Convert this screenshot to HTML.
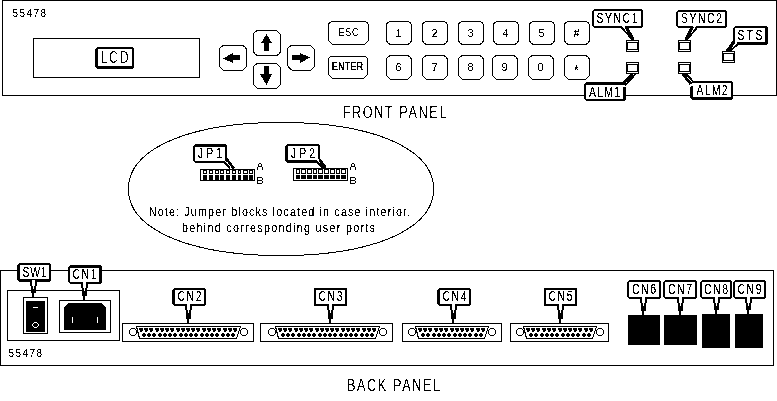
<!DOCTYPE html><html><head><meta charset="utf-8"><style>html,body{margin:0;padding:0;background:#fff;overflow:hidden;width:777px;height:401px;}svg{display:block;}text{font-family:"Liberation Sans",sans-serif;fill:#808080;}</style></head><body>
<svg width="777" height="401" viewBox="0 0 777 401" shape-rendering="crispEdges">
<defs><filter id="bin" x="0" y="0" width="100%" height="100%" color-interpolation-filters="sRGB"><feColorMatrix type="matrix" values="0.33 0.33 0.33 0 0 0.33 0.33 0.33 0 0 0.33 0.33 0.33 0 0 0 0 0 1 0"/><feComponentTransfer><feFuncR type="discrete" tableValues="0 0 0 1"/><feFuncG type="discrete" tableValues="0 0 0 1"/><feFuncB type="discrete" tableValues="0 0 0 1"/></feComponentTransfer></filter></defs>
<g filter="url(#bin)">
<rect width="777" height="401" fill="#fff"/>
<rect x="2.5" y="0.5" width="774" height="95" fill="none" stroke="#000"/>
<text transform="translate(12.5 17) scale(0.88 1.0)" x="0" y="0" font-size="11.3" text-anchor="start" textLength="38.07" lengthAdjust="spacing">55478</text>
<rect x="33.5" y="38.5" width="166" height="39" fill="none" stroke="#000"/>
<path d="M97 47H132L134 49V67L132 69H97L95 67V49Z" fill="#000"/>
<rect x="98" y="49" width="34" height="17" fill="#fff"/>
<text transform="translate(114.5 63) scale(0.72 1.0)" x="0" y="0" font-size="17" text-anchor="middle" textLength="38.89" lengthAdjust="spacing" style="fill:#989898">LCD</text>
<path d="M224.5 45.5H241.5C244.25 45.5 246.5 47.75 246.5 50.5V64.5C246.5 67.8 243.8 70.5 240.5 70.5H225.5C222.2 70.5 219.5 67.8 219.5 64.5V50.5C219.5 47.75 221.75 45.5 224.5 45.5Z" fill="none" stroke="#000"/>
<path d="M258.5 30.5H274.5C277.8 30.5 280.5 33.2 280.5 36.5V50.5C280.5 53.25 278.25 55.5 275.5 55.5H258.5C255.75 55.5 253.5 53.25 253.5 50.5V35.5C253.5 32.75 255.75 30.5 258.5 30.5Z" fill="none" stroke="#000"/>
<path d="M258.5 63.5H274.5C277.8 63.5 280.5 66.2 280.5 69.5V82.5C280.5 85.8 277.8 88.5 274.5 88.5H259.5C256.2 88.5 253.5 85.8 253.5 82.5V68.5C253.5 65.75 255.75 63.5 258.5 63.5Z" fill="none" stroke="#000"/>
<path d="M292.5 45.5H308.5C311.8 45.5 314.5 48.2 314.5 51.5V64.5C314.5 67.8 311.8 70.5 308.5 70.5H294.5C290.65 70.5 287.5 67.35 287.5 63.5V50.5C287.5 47.75 289.75 45.5 292.5 45.5Z" fill="none" stroke="#000"/>
<path d="M223 58.5L233 53L233 55L240 55L240 60L233 60L233 63Z" fill="#000"/>
<path d="M310 57.5L300 53L300 55L292 55L292 60L300 60L300 63Z" fill="#000"/>
<path d="M266.5 34L272 43L269 43L269 51L264 51L264 43L261 43Z" fill="#000"/>
<path d="M266.5 85L272 74L269 74L269 66L264 66L264 74L260 74Z" fill="#000"/>
<path d="M332.5 21.5H364.5C366.7 21.5 368.5 23.3 368.5 25.5V38.5C368.5 41.8 365.8 44.5 362.5 44.5H334.5C331.2 44.5 328.5 41.8 328.5 38.5V25.5C328.5 23.3 330.3 21.5 332.5 21.5Z" fill="none" stroke="#000"/>
<text transform="translate(348.5 36) scale(0.88 1.0)" x="0" y="0" font-size="10" text-anchor="middle" textLength="22.16" lengthAdjust="spacing">ESC</text>
<path d="M331.5 56.5H364.5C366.15 56.5 367.5 57.85 367.5 59.5V72.5C367.5 75.8 364.8 78.5 361.5 78.5H334.5C331.2 78.5 328.5 75.8 328.5 72.5V59.5C328.5 57.85 329.85 56.5 331.5 56.5Z" fill="none" stroke="#000"/>
<text transform="translate(347.5 70) scale(0.92 1.0)" x="0" y="0" font-size="10" text-anchor="middle" textLength="34.24" lengthAdjust="spacing" style="fill:#404040">ENTER</text>
<path d="M390.5 21.5H407.5C409.7 21.5 411.5 23.3 411.5 25.5V39.5C411.5 42.25 409.25 44.5 406.5 44.5H391.5C388.75 44.5 386.5 42.25 386.5 39.5V25.5C386.5 23.3 388.3 21.5 390.5 21.5Z" fill="none" stroke="#000"/>
<text x="398.5" y="37" font-size="11" text-anchor="middle">1</text>
<path d="M391.5 55.5H406.5C409.25 55.5 411.5 57.75 411.5 60.5V73.5C411.5 76.8 408.8 79.5 405.5 79.5H392.5C389.2 79.5 386.5 76.8 386.5 73.5V60.5C386.5 57.75 388.75 55.5 391.5 55.5Z" fill="none" stroke="#000"/>
<text x="398.5" y="71" font-size="11" text-anchor="middle">6</text>
<path d="M426.5 21.5H443.5C445.7 21.5 447.5 23.3 447.5 25.5V39.5C447.5 42.25 445.25 44.5 442.5 44.5H427.5C424.75 44.5 422.5 42.25 422.5 39.5V25.5C422.5 23.3 424.3 21.5 426.5 21.5Z" fill="none" stroke="#000"/>
<text x="434.5" y="37" font-size="11" text-anchor="middle">2</text>
<path d="M427.5 55.5H442.5C445.25 55.5 447.5 57.75 447.5 60.5V73.5C447.5 76.8 444.8 79.5 441.5 79.5H428.5C425.2 79.5 422.5 76.8 422.5 73.5V60.5C422.5 57.75 424.75 55.5 427.5 55.5Z" fill="none" stroke="#000"/>
<text x="434.5" y="71" font-size="11" text-anchor="middle">7</text>
<path d="M462.5 21.5H479.5C481.7 21.5 483.5 23.3 483.5 25.5V39.5C483.5 42.25 481.25 44.5 478.5 44.5H463.5C460.75 44.5 458.5 42.25 458.5 39.5V25.5C458.5 23.3 460.3 21.5 462.5 21.5Z" fill="none" stroke="#000"/>
<text x="470.5" y="37" font-size="11" text-anchor="middle">3</text>
<path d="M463.5 55.5H478.5C481.25 55.5 483.5 57.75 483.5 60.5V73.5C483.5 76.8 480.8 79.5 477.5 79.5H464.5C461.2 79.5 458.5 76.8 458.5 73.5V60.5C458.5 57.75 460.75 55.5 463.5 55.5Z" fill="none" stroke="#000"/>
<text x="470.5" y="71" font-size="11" text-anchor="middle">8</text>
<path d="M497.5 21.5H514.5C516.7 21.5 518.5 23.3 518.5 25.5V39.5C518.5 42.25 516.25 44.5 513.5 44.5H498.5C495.75 44.5 493.5 42.25 493.5 39.5V25.5C493.5 23.3 495.3 21.5 497.5 21.5Z" fill="none" stroke="#000"/>
<text x="505.5" y="37" font-size="11" text-anchor="middle">4</text>
<path d="M497.5 55.5H512.5C515.25 55.5 517.5 57.75 517.5 60.5V73.5C517.5 76.8 514.8 79.5 511.5 79.5H498.5C495.2 79.5 492.5 76.8 492.5 73.5V60.5C492.5 57.75 494.75 55.5 497.5 55.5Z" fill="none" stroke="#000"/>
<text x="504.5" y="71" font-size="11" text-anchor="middle">9</text>
<path d="M533.5 21.5H550.5C552.7 21.5 554.5 23.3 554.5 25.5V39.5C554.5 42.25 552.25 44.5 549.5 44.5H534.5C531.75 44.5 529.5 42.25 529.5 39.5V25.5C529.5 23.3 531.3 21.5 533.5 21.5Z" fill="none" stroke="#000"/>
<text x="541.5" y="37" font-size="11" text-anchor="middle">5</text>
<path d="M533.5 55.5H548.5C551.25 55.5 553.5 57.75 553.5 60.5V73.5C553.5 76.8 550.8 79.5 547.5 79.5H534.5C531.2 79.5 528.5 76.8 528.5 73.5V60.5C528.5 57.75 530.75 55.5 533.5 55.5Z" fill="none" stroke="#000"/>
<text x="540.5" y="71" font-size="11" text-anchor="middle">0</text>
<path d="M568.5 21.5H585.5C587.7 21.5 589.5 23.3 589.5 25.5V39.5C589.5 42.25 587.25 44.5 584.5 44.5H569.5C566.75 44.5 564.5 42.25 564.5 39.5V25.5C564.5 23.3 566.3 21.5 568.5 21.5Z" fill="none" stroke="#000"/>
<text x="576.5" y="37" font-size="11" text-anchor="middle">#</text>
<path d="M569.5 55.5H584.5C587.25 55.5 589.5 57.75 589.5 60.5V73.5C589.5 76.8 586.8 79.5 583.5 79.5H570.5C567.2 79.5 564.5 76.8 564.5 73.5V60.5C564.5 57.75 566.75 55.5 569.5 55.5Z" fill="none" stroke="#000"/>
<text x="576.5" y="74.5" font-size="14" text-anchor="middle">*</text>
<rect x="626" y="40" width="13" height="12" fill="#000"/>
<rect x="627" y="41" width="11" height="1" fill="#fff"/>
<rect x="627" y="50" width="11" height="1" fill="#fff"/>
<rect x="628" y="43" width="9" height="6" fill="#fff"/>
<rect x="626" y="62" width="13" height="12" fill="#000"/>
<rect x="627" y="63" width="11" height="1" fill="#fff"/>
<rect x="627" y="72" width="11" height="1" fill="#fff"/>
<rect x="628" y="65" width="9" height="6" fill="#fff"/>
<rect x="678" y="40" width="13" height="12" fill="#000"/>
<rect x="679" y="41" width="11" height="1" fill="#fff"/>
<rect x="679" y="50" width="11" height="1" fill="#fff"/>
<rect x="680" y="43" width="9" height="6" fill="#fff"/>
<rect x="678" y="62" width="13" height="12" fill="#000"/>
<rect x="679" y="63" width="11" height="1" fill="#fff"/>
<rect x="679" y="72" width="11" height="1" fill="#fff"/>
<rect x="680" y="65" width="9" height="6" fill="#fff"/>
<rect x="722" y="51" width="13" height="12" fill="#000"/>
<rect x="723" y="52" width="11" height="1" fill="#fff"/>
<rect x="723" y="61" width="11" height="1" fill="#fff"/>
<rect x="724" y="54" width="9" height="6" fill="#fff"/>
<path d="M594 9H641L643 11V26L641 28H594L592 26V11Z" fill="#000"/>
<rect x="594" y="11" width="47" height="15" fill="#fff"/>
<text transform="translate(617 23) scale(0.72 1.0)" x="0" y="0" font-size="14.5" text-anchor="middle" textLength="56.94" lengthAdjust="spacing">SYNC1</text>
<path d="M678 10H725L727 12V26L725 28H678L676 26V12Z" fill="#000"/>
<rect x="678" y="12" width="47" height="14" fill="#fff"/>
<text transform="translate(701.5 23) scale(0.72 1.0)" x="0" y="0" font-size="14.5" text-anchor="middle" textLength="56.94" lengthAdjust="spacing">SYNC2</text>
<path d="M735 26H766L768 28V43L766 45H735L733 43V28Z" fill="#000"/>
<rect x="735" y="28" width="30" height="14" fill="#fff"/>
<text transform="translate(750.0 40) scale(0.72 1.0)" x="0" y="0" font-size="14.5" text-anchor="middle" textLength="34.72" lengthAdjust="spacing">STS</text>
<path d="M586 82H624L626 84V99L624 101H586L584 99V84Z" fill="#000"/>
<rect x="586" y="85" width="37" height="14" fill="#fff"/>
<text transform="translate(604.5 97) scale(0.72 1.0)" x="0" y="0" font-size="14.5" text-anchor="middle" textLength="43.06" lengthAdjust="spacing">ALM1</text>
<path d="M692 81H731L733 83V98L731 100H692L690 98V83Z" fill="#000"/>
<rect x="693" y="83" width="38" height="14" fill="#fff"/>
<text transform="translate(712.0 95) scale(0.72 1.0)" x="0" y="0" font-size="14.5" text-anchor="middle" textLength="43.06" lengthAdjust="spacing">ALM2</text>
<path d="M621 25.5L625 25.5L628 29L624 29Z" fill="#fff" shape-rendering="geometricPrecision"/>
<path d="M620.5 26.5L632.5 39.5" stroke="#000" stroke-width="1.3" fill="none" shape-rendering="geometricPrecision"/>
<path d="M625.8 26.5L633.2 39.8" stroke="#000" stroke-width="2.8" fill="none" shape-rendering="geometricPrecision"/>
<path d="M697 25.5L693.5 25.5L690.5 29L694.5 29Z" fill="#fff" shape-rendering="geometricPrecision"/>
<path d="M697.8 26.5L687 39.8" stroke="#000" stroke-width="1.3" fill="none" shape-rendering="geometricPrecision"/>
<path d="M692.5 26.5L685.8 39.8" stroke="#000" stroke-width="2.8" fill="none" shape-rendering="geometricPrecision"/>
<path d="M735.2 42L737.5 42L736.5 45.5L734.5 45.5Z" fill="#fff" shape-rendering="geometricPrecision"/>
<path d="M734.2 41.5L727.3 50.8" stroke="#000" stroke-width="2.8" fill="none" shape-rendering="geometricPrecision"/>
<path d="M737.8 44.5L730 50.8" stroke="#000" stroke-width="1.3" fill="none" shape-rendering="geometricPrecision"/>
<path d="M622.8 84L626.5 84.5L627 87L623 87Z" fill="#fff" shape-rendering="geometricPrecision"/>
<path d="M632.3 74L622.5 83.6" stroke="#000" stroke-width="2.4" fill="none" shape-rendering="geometricPrecision"/>
<path d="M635.5 74L625 85.5" stroke="#000" stroke-width="1.3" fill="none" shape-rendering="geometricPrecision"/>
<path d="M690 84L693.8 82.5L693 86L690 87Z" fill="#fff" shape-rendering="geometricPrecision"/>
<path d="M682.7 74L690.6 83.8" stroke="#000" stroke-width="2.4" fill="none" shape-rendering="geometricPrecision"/>
<path d="M686 74L693.8 82.2" stroke="#000" stroke-width="1.3" fill="none" shape-rendering="geometricPrecision"/>
<text transform="translate(394.5 118) scale(0.8 1.0)" x="0" y="0" font-size="15.8" text-anchor="middle" textLength="130.00" lengthAdjust="spacing" style="fill:#909090">FRONT PANEL</text>
<path d="M433.50 189.00L433.48 190.59L433.41 192.02L433.31 193.39L433.16 194.71L432.97 196.02L432.73 197.30L432.45 198.56L432.13 199.80L431.77 201.03L431.36 202.25L430.92 203.45L430.43 204.64L429.89 205.81L429.32 206.98L428.70 208.13L428.05 209.28L427.35 210.41L426.61 211.53L425.83 212.64L425.00 213.74L424.14 214.83L423.24 215.90L422.29 216.97L421.31 218.02L420.28 219.07L419.22 220.10L418.11 221.12L416.97 222.13L415.79 223.12L414.57 224.11L413.31 225.08L412.01 226.04L410.67 226.98L409.30 227.92L407.89 228.84L406.44 229.75L404.96 230.64L403.44 231.53L401.88 232.40L400.29 233.25L398.66 234.09L397.00 234.92L395.30 235.73L393.57 236.53L391.80 237.32L390.00 238.09L388.17 238.84L386.31 239.58L384.41 240.31L382.48 241.02L380.52 241.71L378.52 242.39L376.50 243.05L374.45 243.70L372.36 244.33L370.25 244.95L368.11 245.55L365.93 246.13L363.73 246.69L361.50 247.24L359.25 247.78L356.96 248.29L354.65 248.79L352.31 249.27L349.95 249.74L347.56 250.18L345.14 250.61L342.70 251.02L340.23 251.42L337.73 251.79L335.21 252.15L332.67 252.49L330.10 252.82L327.50 253.12L324.88 253.41L322.23 253.68L319.56 253.93L316.86 254.16L314.13 254.37L311.37 254.57L308.59 254.75L305.77 254.90L302.92 255.04L300.03 255.16L297.09 255.27L294.11 255.35L291.06 255.42L287.92 255.46L284.65 255.49L281.00 255.50L277.35 255.49L274.08 255.46L270.94 255.42L267.89 255.35L264.91 255.27L261.97 255.16L259.08 255.04L256.23 254.90L253.41 254.75L250.63 254.57L247.87 254.37L245.14 254.16L242.44 253.93L239.77 253.68L237.12 253.41L234.50 253.12L231.90 252.82L229.33 252.49L226.79 252.15L224.27 251.79L221.77 251.42L219.30 251.02L216.86 250.61L214.44 250.18L212.05 249.74L209.69 249.27L207.35 248.79L205.04 248.29L202.75 247.78L200.50 247.24L198.27 246.69L196.07 246.13L193.89 245.55L191.75 244.95L189.64 244.33L187.55 243.70L185.50 243.05L183.48 242.39L181.48 241.71L179.52 241.02L177.59 240.31L175.69 239.58L173.83 238.84L172.00 238.09L170.20 237.32L168.43 236.53L166.70 235.73L165.00 234.92L163.34 234.09L161.71 233.25L160.12 232.40L158.56 231.53L157.04 230.64L155.56 229.75L154.11 228.84L152.70 227.92L151.33 226.98L149.99 226.04L148.69 225.08L147.43 224.11L146.21 223.12L145.03 222.13L143.89 221.12L142.78 220.10L141.72 219.07L140.69 218.02L139.71 216.97L138.76 215.90L137.86 214.83L137.00 213.74L136.17 212.64L135.39 211.53L134.65 210.41L133.95 209.28L133.30 208.13L132.68 206.98L132.11 205.81L131.57 204.64L131.08 203.45L130.64 202.25L130.23 201.03L129.87 199.80L129.55 198.56L129.27 197.30L129.03 196.02L128.84 194.71L128.69 193.39L128.59 192.02L128.52 190.59L128.50 189.00L128.52 187.41L128.59 185.98L128.69 184.61L128.84 183.29L129.03 181.98L129.27 180.70L129.55 179.44L129.87 178.20L130.23 176.97L130.64 175.75L131.08 174.55L131.57 173.36L132.11 172.19L132.68 171.02L133.30 169.87L133.95 168.72L134.65 167.59L135.39 166.47L136.17 165.36L137.00 164.26L137.86 163.17L138.76 162.10L139.71 161.03L140.69 159.98L141.72 158.93L142.78 157.90L143.89 156.88L145.03 155.87L146.21 154.88L147.43 153.89L148.69 152.92L149.99 151.96L151.33 151.02L152.70 150.08L154.11 149.16L155.56 148.25L157.04 147.36L158.56 146.47L160.12 145.60L161.71 144.75L163.34 143.91L165.00 143.08L166.70 142.27L168.43 141.47L170.20 140.68L172.00 139.91L173.83 139.16L175.69 138.42L177.59 137.69L179.52 136.98L181.48 136.29L183.48 135.61L185.50 134.95L187.55 134.30L189.64 133.67L191.75 133.05L193.89 132.45L196.07 131.87L198.27 131.31L200.50 130.76L202.75 130.22L205.04 129.71L207.35 129.21L209.69 128.73L212.05 128.26L214.44 127.82L216.86 127.39L219.30 126.98L221.77 126.58L224.27 126.21L226.79 125.85L229.33 125.51L231.90 125.18L234.50 124.88L237.12 124.59L239.77 124.32L242.44 124.07L245.14 123.84L247.87 123.63L250.63 123.43L253.41 123.25L256.23 123.10L259.08 122.96L261.97 122.84L264.91 122.73L267.89 122.65L270.94 122.58L274.08 122.54L277.35 122.51L281.00 122.50L284.65 122.51L287.92 122.54L291.06 122.58L294.11 122.65L297.09 122.73L300.03 122.84L302.92 122.96L305.77 123.10L308.59 123.25L311.37 123.43L314.13 123.63L316.86 123.84L319.56 124.07L322.23 124.32L324.88 124.59L327.50 124.88L330.10 125.18L332.67 125.51L335.21 125.85L337.73 126.21L340.23 126.58L342.70 126.98L345.14 127.39L347.56 127.82L349.95 128.26L352.31 128.73L354.65 129.21L356.96 129.71L359.25 130.22L361.50 130.76L363.73 131.31L365.93 131.87L368.11 132.45L370.25 133.05L372.36 133.67L374.45 134.30L376.50 134.95L378.52 135.61L380.52 136.29L382.48 136.98L384.41 137.69L386.31 138.42L388.17 139.16L390.00 139.91L391.80 140.68L393.57 141.47L395.30 142.27L397.00 143.08L398.66 143.91L400.29 144.75L401.88 145.60L403.44 146.47L404.96 147.36L406.44 148.25L407.89 149.16L409.30 150.08L410.67 151.02L412.01 151.96L413.31 152.92L414.57 153.89L415.79 154.88L416.97 155.87L418.11 156.88L419.22 157.90L420.28 158.93L421.31 159.98L422.29 161.03L423.24 162.10L424.14 163.17L425.00 164.26L425.83 165.36L426.61 166.47L427.35 167.59L428.05 168.72L428.70 169.87L429.32 171.02L429.89 172.19L430.43 173.36L430.92 174.55L431.36 175.75L431.77 176.97L432.13 178.20L432.45 179.44L432.73 180.70L432.97 181.98L433.16 183.29L433.31 184.61L433.41 185.98L433.48 187.41Z" fill="none" stroke="#000"/>
<rect x="200" y="169" width="55" height="12" fill="#000"/>
<rect x="201" y="170" width="2" height="10" fill="#fff"/>
<rect x="207" y="170" width="2" height="10" fill="#fff"/>
<rect x="213" y="170" width="2" height="10" fill="#fff"/>
<rect x="219" y="170" width="1" height="10" fill="#fff"/>
<rect x="224" y="170" width="2" height="10" fill="#fff"/>
<rect x="230" y="170" width="2" height="10" fill="#fff"/>
<rect x="236" y="170" width="2" height="10" fill="#fff"/>
<rect x="241" y="170" width="2" height="10" fill="#fff"/>
<rect x="248" y="170" width="1" height="10" fill="#fff"/>
<rect x="253" y="170" width="1" height="10" fill="#fff"/>
<rect x="201" y="174" width="53" height="1" fill="#fff"/>
<rect x="204" y="171" width="2" height="2" fill="#fff"/>
<rect x="210" y="171" width="2" height="2" fill="#fff"/>
<rect x="216" y="171" width="2" height="2" fill="#fff"/>
<rect x="221" y="171" width="2" height="2" fill="#fff"/>
<rect x="227" y="171" width="2" height="2" fill="#fff"/>
<rect x="233" y="171" width="2" height="2" fill="#fff"/>
<rect x="239" y="171" width="1" height="2" fill="#fff"/>
<rect x="244" y="171" width="3" height="2" fill="#fff"/>
<rect x="250" y="171" width="2" height="2" fill="#fff"/>
<rect x="293.5" y="168.5" width="54" height="12" fill="none" stroke="#000"/>
<rect x="296" y="169" width="4" height="5" fill="#000"/>
<rect x="297" y="170" width="2" height="3" fill="#fff"/>
<rect x="296" y="175" width="4" height="4" fill="#000"/>
<rect x="301" y="169" width="5" height="5" fill="#000"/>
<rect x="302" y="170" width="3" height="3" fill="#fff"/>
<rect x="301" y="175" width="5" height="4" fill="#000"/>
<rect x="307" y="169" width="5" height="5" fill="#000"/>
<rect x="308" y="170" width="3" height="3" fill="#fff"/>
<rect x="307" y="175" width="5" height="4" fill="#000"/>
<rect x="313" y="169" width="4" height="5" fill="#000"/>
<rect x="314" y="170" width="2" height="3" fill="#fff"/>
<rect x="313" y="175" width="4" height="4" fill="#000"/>
<rect x="318" y="169" width="5" height="5" fill="#000"/>
<rect x="319" y="170" width="3" height="3" fill="#fff"/>
<rect x="318" y="175" width="5" height="4" fill="#000"/>
<rect x="324" y="169" width="5" height="5" fill="#000"/>
<rect x="325" y="170" width="3" height="3" fill="#fff"/>
<rect x="324" y="175" width="5" height="4" fill="#000"/>
<rect x="330" y="169" width="5" height="5" fill="#000"/>
<rect x="331" y="170" width="3" height="3" fill="#fff"/>
<rect x="330" y="175" width="5" height="4" fill="#000"/>
<rect x="336" y="169" width="4" height="5" fill="#000"/>
<rect x="337" y="170" width="2" height="3" fill="#fff"/>
<rect x="336" y="175" width="4" height="4" fill="#000"/>
<rect x="341" y="169" width="5" height="5" fill="#000"/>
<rect x="342" y="170" width="3" height="3" fill="#fff"/>
<rect x="341" y="175" width="5" height="4" fill="#000"/>
<path d="M195 144H225L227 146V161L225 163H195L193 161V146Z" fill="#000"/>
<rect x="195" y="147" width="30" height="14" fill="#fff"/>
<text transform="translate(210.0 158) scale(0.72 1.0)" x="0" y="0" font-size="14.5" text-anchor="middle" textLength="33.33" lengthAdjust="spacing">JP1</text>
<path d="M287 144H318L320 146V161L318 163H287L285 161V146Z" fill="#000"/>
<rect x="288" y="146" width="30" height="14" fill="#fff"/>
<text transform="translate(303.0 158) scale(0.72 1.0)" x="0" y="0" font-size="14.5" text-anchor="middle" textLength="33.33" lengthAdjust="spacing">JP2</text>
<rect x="259" y="163" width="2" height="1" fill="#000"/>
<rect x="258" y="164" width="1" height="2" fill="#000"/>
<rect x="261" y="164" width="1" height="2" fill="#000"/>
<rect x="258" y="166" width="4" height="1" fill="#000"/>
<rect x="257" y="167" width="1" height="3" fill="#000"/>
<rect x="262" y="167" width="1" height="3" fill="#000"/>
<rect x="257" y="177" width="1" height="7" fill="#000"/>
<rect x="257" y="177" width="5" height="1" fill="#000"/>
<rect x="257" y="180" width="5" height="1" fill="#000"/>
<rect x="257" y="183" width="5" height="1" fill="#000"/>
<rect x="262" y="178" width="1" height="2" fill="#000"/>
<rect x="262" y="181" width="1" height="2" fill="#000"/>
<rect x="352" y="163" width="2" height="1" fill="#000"/>
<rect x="351" y="164" width="1" height="2" fill="#000"/>
<rect x="354" y="164" width="1" height="2" fill="#000"/>
<rect x="351" y="166" width="4" height="1" fill="#000"/>
<rect x="350" y="167" width="1" height="3" fill="#000"/>
<rect x="355" y="167" width="1" height="3" fill="#000"/>
<rect x="350" y="177" width="1" height="7" fill="#000"/>
<rect x="350" y="177" width="5" height="1" fill="#000"/>
<rect x="350" y="180" width="5" height="1" fill="#000"/>
<rect x="350" y="183" width="5" height="1" fill="#000"/>
<rect x="355" y="178" width="1" height="2" fill="#000"/>
<rect x="355" y="181" width="1" height="2" fill="#000"/>
<path d="M223.6 160.8L225.6 160.8L227 163L225 163Z" fill="#fff" shape-rendering="geometricPrecision"/>
<path d="M223.2 161.2L230.3 168.3" stroke="#000" stroke-width="1.2" fill="none" shape-rendering="geometricPrecision"/>
<path d="M226.6 159L233.6 168.3" stroke="#000" stroke-width="2.2" fill="none" shape-rendering="geometricPrecision"/>
<path d="M315.5 160.5L319 158.5L320.5 161L318 163Z" fill="#fff" shape-rendering="geometricPrecision"/>
<path d="M316 161L322.5 167.8" stroke="#000" stroke-width="1.3" fill="none" shape-rendering="geometricPrecision"/>
<path d="M319.5 160L325.5 167.8" stroke="#000" stroke-width="2.5" fill="none" shape-rendering="geometricPrecision"/>
<text transform="translate(279.5 216) scale(0.86 1.0)" x="0" y="0" font-size="12.5" text-anchor="middle" textLength="304.07" lengthAdjust="spacing">Note: Jumper blocks located in case interior,</text>
<text transform="translate(278.5 232) scale(0.86 1.0)" x="0" y="0" font-size="12.5" text-anchor="middle" textLength="224.42" lengthAdjust="spacing">behind corresponding user ports</text>
<rect x="0.5" y="270.5" width="773" height="95" fill="none" stroke="#000"/>
<rect x="7.5" y="290.5" width="112" height="50" fill="none" stroke="#000"/>
<rect x="23.5" y="297.5" width="24" height="36" fill="none" stroke="#000"/>
<rect x="26" y="301" width="19" height="31" fill="#000"/>
<rect x="33" y="307" width="5" height="1" fill="#fff"/>
<rect x="34" y="322" width="3" height="1" fill="#fff"/>
<rect x="33" y="323" width="1" height="1" fill="#fff"/>
<rect x="37" y="323" width="1" height="1" fill="#fff"/>
<rect x="32" y="324" width="1" height="1" fill="#fff"/>
<rect x="38" y="324" width="1" height="1" fill="#fff"/>
<rect x="32" y="325" width="1" height="1" fill="#fff"/>
<rect x="38" y="325" width="1" height="1" fill="#fff"/>
<rect x="33" y="326" width="1" height="1" fill="#fff"/>
<rect x="37" y="326" width="1" height="1" fill="#fff"/>
<rect x="34" y="327" width="3" height="1" fill="#fff"/>
<rect x="59.5" y="300.5" width="51" height="32" fill="none" stroke="#000"/>
<path d="M68 303L102 303L106 307.5L106 329L105 330L64 330L64 307Z" fill="#000"/>
<rect x="72" y="317" width="1" height="6" fill="#fff"/>
<rect x="97" y="317" width="1" height="6" fill="#fff"/>
<text transform="translate(8.5 357) scale(0.88 1.0)" x="0" y="0" font-size="11.3" text-anchor="start" textLength="38.07" lengthAdjust="spacing">55478</text>
<rect x="122.5" y="323.5" width="131" height="18" fill="none" stroke="#000"/>
<circle cx="133" cy="332" r="3.5" fill="none" stroke="#000"/>
<circle cx="244" cy="332" r="3.5" fill="none" stroke="#000"/>
<path d="M136.5 326.5H240.5L236.5 338.5H139.5Z" fill="none" stroke="#000"/>
<rect x="139" y="328" width="4" height="2" fill="#000"/>
<rect x="140" y="330" width="3" height="1" fill="#000"/>
<rect x="140" y="331" width="2" height="1" fill="#000"/>
<rect x="144" y="328" width="4" height="2" fill="#000"/>
<rect x="145" y="330" width="3" height="1" fill="#000"/>
<rect x="145" y="331" width="2" height="1" fill="#000"/>
<rect x="149" y="328" width="4" height="2" fill="#000"/>
<rect x="150" y="330" width="3" height="1" fill="#000"/>
<rect x="150" y="331" width="2" height="1" fill="#000"/>
<rect x="155" y="328" width="4" height="2" fill="#000"/>
<rect x="156" y="330" width="3" height="1" fill="#000"/>
<rect x="156" y="331" width="2" height="1" fill="#000"/>
<rect x="160" y="328" width="4" height="2" fill="#000"/>
<rect x="161" y="330" width="3" height="1" fill="#000"/>
<rect x="161" y="331" width="2" height="1" fill="#000"/>
<rect x="165" y="328" width="4" height="2" fill="#000"/>
<rect x="166" y="330" width="3" height="1" fill="#000"/>
<rect x="166" y="331" width="2" height="1" fill="#000"/>
<rect x="170" y="328" width="4" height="2" fill="#000"/>
<rect x="171" y="330" width="3" height="1" fill="#000"/>
<rect x="171" y="331" width="2" height="1" fill="#000"/>
<rect x="176" y="328" width="4" height="2" fill="#000"/>
<rect x="177" y="330" width="3" height="1" fill="#000"/>
<rect x="177" y="331" width="2" height="1" fill="#000"/>
<rect x="181" y="328" width="4" height="2" fill="#000"/>
<rect x="182" y="330" width="3" height="1" fill="#000"/>
<rect x="182" y="331" width="2" height="1" fill="#000"/>
<rect x="186" y="328" width="4" height="2" fill="#000"/>
<rect x="187" y="330" width="3" height="1" fill="#000"/>
<rect x="187" y="331" width="2" height="1" fill="#000"/>
<rect x="191" y="328" width="4" height="2" fill="#000"/>
<rect x="192" y="330" width="3" height="1" fill="#000"/>
<rect x="192" y="331" width="2" height="1" fill="#000"/>
<rect x="196" y="328" width="4" height="2" fill="#000"/>
<rect x="197" y="330" width="3" height="1" fill="#000"/>
<rect x="197" y="331" width="2" height="1" fill="#000"/>
<rect x="202" y="328" width="4" height="2" fill="#000"/>
<rect x="203" y="330" width="3" height="1" fill="#000"/>
<rect x="203" y="331" width="2" height="1" fill="#000"/>
<rect x="207" y="328" width="4" height="2" fill="#000"/>
<rect x="208" y="330" width="3" height="1" fill="#000"/>
<rect x="208" y="331" width="2" height="1" fill="#000"/>
<rect x="212" y="328" width="4" height="2" fill="#000"/>
<rect x="213" y="330" width="3" height="1" fill="#000"/>
<rect x="213" y="331" width="2" height="1" fill="#000"/>
<rect x="217" y="328" width="4" height="2" fill="#000"/>
<rect x="218" y="330" width="3" height="1" fill="#000"/>
<rect x="218" y="331" width="2" height="1" fill="#000"/>
<rect x="223" y="328" width="4" height="2" fill="#000"/>
<rect x="224" y="330" width="3" height="1" fill="#000"/>
<rect x="224" y="331" width="2" height="1" fill="#000"/>
<rect x="228" y="328" width="4" height="2" fill="#000"/>
<rect x="229" y="330" width="3" height="1" fill="#000"/>
<rect x="229" y="331" width="2" height="1" fill="#000"/>
<rect x="233" y="328" width="4" height="2" fill="#000"/>
<rect x="234" y="330" width="3" height="1" fill="#000"/>
<rect x="234" y="331" width="2" height="1" fill="#000"/>
<rect x="143" y="333" width="2" height="1" fill="#000"/>
<rect x="142" y="334" width="4" height="2" fill="#000"/>
<rect x="143" y="336" width="2" height="1" fill="#000"/>
<rect x="148" y="333" width="2" height="1" fill="#000"/>
<rect x="147" y="334" width="4" height="2" fill="#000"/>
<rect x="148" y="336" width="2" height="1" fill="#000"/>
<rect x="153" y="333" width="2" height="1" fill="#000"/>
<rect x="152" y="334" width="4" height="2" fill="#000"/>
<rect x="153" y="336" width="2" height="1" fill="#000"/>
<rect x="159" y="333" width="2" height="1" fill="#000"/>
<rect x="158" y="334" width="4" height="2" fill="#000"/>
<rect x="159" y="336" width="2" height="1" fill="#000"/>
<rect x="164" y="333" width="2" height="1" fill="#000"/>
<rect x="163" y="334" width="4" height="2" fill="#000"/>
<rect x="164" y="336" width="2" height="1" fill="#000"/>
<rect x="169" y="333" width="2" height="1" fill="#000"/>
<rect x="168" y="334" width="4" height="2" fill="#000"/>
<rect x="169" y="336" width="2" height="1" fill="#000"/>
<rect x="174" y="333" width="2" height="1" fill="#000"/>
<rect x="173" y="334" width="4" height="2" fill="#000"/>
<rect x="174" y="336" width="2" height="1" fill="#000"/>
<rect x="180" y="333" width="2" height="1" fill="#000"/>
<rect x="179" y="334" width="4" height="2" fill="#000"/>
<rect x="180" y="336" width="2" height="1" fill="#000"/>
<rect x="185" y="333" width="2" height="1" fill="#000"/>
<rect x="184" y="334" width="4" height="2" fill="#000"/>
<rect x="185" y="336" width="2" height="1" fill="#000"/>
<rect x="190" y="333" width="2" height="1" fill="#000"/>
<rect x="189" y="334" width="4" height="2" fill="#000"/>
<rect x="190" y="336" width="2" height="1" fill="#000"/>
<rect x="195" y="333" width="2" height="1" fill="#000"/>
<rect x="194" y="334" width="4" height="2" fill="#000"/>
<rect x="195" y="336" width="2" height="1" fill="#000"/>
<rect x="201" y="333" width="2" height="1" fill="#000"/>
<rect x="200" y="334" width="4" height="2" fill="#000"/>
<rect x="201" y="336" width="2" height="1" fill="#000"/>
<rect x="206" y="333" width="2" height="1" fill="#000"/>
<rect x="205" y="334" width="4" height="2" fill="#000"/>
<rect x="206" y="336" width="2" height="1" fill="#000"/>
<rect x="211" y="333" width="2" height="1" fill="#000"/>
<rect x="210" y="334" width="4" height="2" fill="#000"/>
<rect x="211" y="336" width="2" height="1" fill="#000"/>
<rect x="216" y="333" width="2" height="1" fill="#000"/>
<rect x="215" y="334" width="4" height="2" fill="#000"/>
<rect x="216" y="336" width="2" height="1" fill="#000"/>
<rect x="222" y="333" width="2" height="1" fill="#000"/>
<rect x="221" y="334" width="4" height="2" fill="#000"/>
<rect x="222" y="336" width="2" height="1" fill="#000"/>
<rect x="227" y="333" width="2" height="1" fill="#000"/>
<rect x="226" y="334" width="4" height="2" fill="#000"/>
<rect x="227" y="336" width="2" height="1" fill="#000"/>
<rect x="232" y="333" width="2" height="1" fill="#000"/>
<rect x="231" y="334" width="4" height="2" fill="#000"/>
<rect x="232" y="336" width="2" height="1" fill="#000"/>
<rect x="260.5" y="323.5" width="132" height="18" fill="none" stroke="#000"/>
<circle cx="272" cy="332" r="3.5" fill="none" stroke="#000"/>
<circle cx="383" cy="332" r="3.5" fill="none" stroke="#000"/>
<path d="M275.5 326.5H379.5L375.5 338.5H278.5Z" fill="none" stroke="#000"/>
<rect x="278" y="328" width="4" height="2" fill="#000"/>
<rect x="279" y="330" width="3" height="1" fill="#000"/>
<rect x="279" y="331" width="2" height="1" fill="#000"/>
<rect x="283" y="328" width="4" height="2" fill="#000"/>
<rect x="284" y="330" width="3" height="1" fill="#000"/>
<rect x="284" y="331" width="2" height="1" fill="#000"/>
<rect x="288" y="328" width="4" height="2" fill="#000"/>
<rect x="289" y="330" width="3" height="1" fill="#000"/>
<rect x="289" y="331" width="2" height="1" fill="#000"/>
<rect x="294" y="328" width="4" height="2" fill="#000"/>
<rect x="295" y="330" width="3" height="1" fill="#000"/>
<rect x="295" y="331" width="2" height="1" fill="#000"/>
<rect x="299" y="328" width="4" height="2" fill="#000"/>
<rect x="300" y="330" width="3" height="1" fill="#000"/>
<rect x="300" y="331" width="2" height="1" fill="#000"/>
<rect x="304" y="328" width="4" height="2" fill="#000"/>
<rect x="305" y="330" width="3" height="1" fill="#000"/>
<rect x="305" y="331" width="2" height="1" fill="#000"/>
<rect x="309" y="328" width="4" height="2" fill="#000"/>
<rect x="310" y="330" width="3" height="1" fill="#000"/>
<rect x="310" y="331" width="2" height="1" fill="#000"/>
<rect x="315" y="328" width="4" height="2" fill="#000"/>
<rect x="316" y="330" width="3" height="1" fill="#000"/>
<rect x="316" y="331" width="2" height="1" fill="#000"/>
<rect x="320" y="328" width="4" height="2" fill="#000"/>
<rect x="321" y="330" width="3" height="1" fill="#000"/>
<rect x="321" y="331" width="2" height="1" fill="#000"/>
<rect x="325" y="328" width="4" height="2" fill="#000"/>
<rect x="326" y="330" width="3" height="1" fill="#000"/>
<rect x="326" y="331" width="2" height="1" fill="#000"/>
<rect x="330" y="328" width="4" height="2" fill="#000"/>
<rect x="331" y="330" width="3" height="1" fill="#000"/>
<rect x="331" y="331" width="2" height="1" fill="#000"/>
<rect x="335" y="328" width="4" height="2" fill="#000"/>
<rect x="336" y="330" width="3" height="1" fill="#000"/>
<rect x="336" y="331" width="2" height="1" fill="#000"/>
<rect x="341" y="328" width="4" height="2" fill="#000"/>
<rect x="342" y="330" width="3" height="1" fill="#000"/>
<rect x="342" y="331" width="2" height="1" fill="#000"/>
<rect x="346" y="328" width="4" height="2" fill="#000"/>
<rect x="347" y="330" width="3" height="1" fill="#000"/>
<rect x="347" y="331" width="2" height="1" fill="#000"/>
<rect x="351" y="328" width="4" height="2" fill="#000"/>
<rect x="352" y="330" width="3" height="1" fill="#000"/>
<rect x="352" y="331" width="2" height="1" fill="#000"/>
<rect x="356" y="328" width="4" height="2" fill="#000"/>
<rect x="357" y="330" width="3" height="1" fill="#000"/>
<rect x="357" y="331" width="2" height="1" fill="#000"/>
<rect x="362" y="328" width="4" height="2" fill="#000"/>
<rect x="363" y="330" width="3" height="1" fill="#000"/>
<rect x="363" y="331" width="2" height="1" fill="#000"/>
<rect x="367" y="328" width="4" height="2" fill="#000"/>
<rect x="368" y="330" width="3" height="1" fill="#000"/>
<rect x="368" y="331" width="2" height="1" fill="#000"/>
<rect x="372" y="328" width="4" height="2" fill="#000"/>
<rect x="373" y="330" width="3" height="1" fill="#000"/>
<rect x="373" y="331" width="2" height="1" fill="#000"/>
<rect x="282" y="333" width="2" height="1" fill="#000"/>
<rect x="281" y="334" width="4" height="2" fill="#000"/>
<rect x="282" y="336" width="2" height="1" fill="#000"/>
<rect x="287" y="333" width="2" height="1" fill="#000"/>
<rect x="286" y="334" width="4" height="2" fill="#000"/>
<rect x="287" y="336" width="2" height="1" fill="#000"/>
<rect x="292" y="333" width="2" height="1" fill="#000"/>
<rect x="291" y="334" width="4" height="2" fill="#000"/>
<rect x="292" y="336" width="2" height="1" fill="#000"/>
<rect x="298" y="333" width="2" height="1" fill="#000"/>
<rect x="297" y="334" width="4" height="2" fill="#000"/>
<rect x="298" y="336" width="2" height="1" fill="#000"/>
<rect x="303" y="333" width="2" height="1" fill="#000"/>
<rect x="302" y="334" width="4" height="2" fill="#000"/>
<rect x="303" y="336" width="2" height="1" fill="#000"/>
<rect x="308" y="333" width="2" height="1" fill="#000"/>
<rect x="307" y="334" width="4" height="2" fill="#000"/>
<rect x="308" y="336" width="2" height="1" fill="#000"/>
<rect x="313" y="333" width="2" height="1" fill="#000"/>
<rect x="312" y="334" width="4" height="2" fill="#000"/>
<rect x="313" y="336" width="2" height="1" fill="#000"/>
<rect x="319" y="333" width="2" height="1" fill="#000"/>
<rect x="318" y="334" width="4" height="2" fill="#000"/>
<rect x="319" y="336" width="2" height="1" fill="#000"/>
<rect x="324" y="333" width="2" height="1" fill="#000"/>
<rect x="323" y="334" width="4" height="2" fill="#000"/>
<rect x="324" y="336" width="2" height="1" fill="#000"/>
<rect x="329" y="333" width="2" height="1" fill="#000"/>
<rect x="328" y="334" width="4" height="2" fill="#000"/>
<rect x="329" y="336" width="2" height="1" fill="#000"/>
<rect x="334" y="333" width="2" height="1" fill="#000"/>
<rect x="333" y="334" width="4" height="2" fill="#000"/>
<rect x="334" y="336" width="2" height="1" fill="#000"/>
<rect x="340" y="333" width="2" height="1" fill="#000"/>
<rect x="339" y="334" width="4" height="2" fill="#000"/>
<rect x="340" y="336" width="2" height="1" fill="#000"/>
<rect x="345" y="333" width="2" height="1" fill="#000"/>
<rect x="344" y="334" width="4" height="2" fill="#000"/>
<rect x="345" y="336" width="2" height="1" fill="#000"/>
<rect x="350" y="333" width="2" height="1" fill="#000"/>
<rect x="349" y="334" width="4" height="2" fill="#000"/>
<rect x="350" y="336" width="2" height="1" fill="#000"/>
<rect x="355" y="333" width="2" height="1" fill="#000"/>
<rect x="354" y="334" width="4" height="2" fill="#000"/>
<rect x="355" y="336" width="2" height="1" fill="#000"/>
<rect x="361" y="333" width="2" height="1" fill="#000"/>
<rect x="360" y="334" width="4" height="2" fill="#000"/>
<rect x="361" y="336" width="2" height="1" fill="#000"/>
<rect x="366" y="333" width="2" height="1" fill="#000"/>
<rect x="365" y="334" width="4" height="2" fill="#000"/>
<rect x="366" y="336" width="2" height="1" fill="#000"/>
<rect x="371" y="333" width="2" height="1" fill="#000"/>
<rect x="370" y="334" width="4" height="2" fill="#000"/>
<rect x="371" y="336" width="2" height="1" fill="#000"/>
<rect x="402.5" y="323.5" width="99" height="18" fill="none" stroke="#000"/>
<circle cx="412" cy="332" r="3.5" fill="none" stroke="#000"/>
<circle cx="492" cy="332" r="3.5" fill="none" stroke="#000"/>
<path d="M415.5 326.5H488.5L484.5 338.5H418.5Z" fill="none" stroke="#000"/>
<rect x="418" y="328" width="4" height="2" fill="#000"/>
<rect x="419" y="330" width="3" height="1" fill="#000"/>
<rect x="419" y="331" width="2" height="1" fill="#000"/>
<rect x="423" y="328" width="4" height="2" fill="#000"/>
<rect x="424" y="330" width="3" height="1" fill="#000"/>
<rect x="424" y="331" width="2" height="1" fill="#000"/>
<rect x="428" y="328" width="4" height="2" fill="#000"/>
<rect x="429" y="330" width="3" height="1" fill="#000"/>
<rect x="429" y="331" width="2" height="1" fill="#000"/>
<rect x="434" y="328" width="4" height="2" fill="#000"/>
<rect x="435" y="330" width="3" height="1" fill="#000"/>
<rect x="435" y="331" width="2" height="1" fill="#000"/>
<rect x="439" y="328" width="4" height="2" fill="#000"/>
<rect x="440" y="330" width="3" height="1" fill="#000"/>
<rect x="440" y="331" width="2" height="1" fill="#000"/>
<rect x="444" y="328" width="4" height="2" fill="#000"/>
<rect x="445" y="330" width="3" height="1" fill="#000"/>
<rect x="445" y="331" width="2" height="1" fill="#000"/>
<rect x="450" y="328" width="4" height="2" fill="#000"/>
<rect x="451" y="330" width="3" height="1" fill="#000"/>
<rect x="451" y="331" width="2" height="1" fill="#000"/>
<rect x="455" y="328" width="4" height="2" fill="#000"/>
<rect x="456" y="330" width="3" height="1" fill="#000"/>
<rect x="456" y="331" width="2" height="1" fill="#000"/>
<rect x="460" y="328" width="4" height="2" fill="#000"/>
<rect x="461" y="330" width="3" height="1" fill="#000"/>
<rect x="461" y="331" width="2" height="1" fill="#000"/>
<rect x="465" y="328" width="4" height="2" fill="#000"/>
<rect x="466" y="330" width="3" height="1" fill="#000"/>
<rect x="466" y="331" width="2" height="1" fill="#000"/>
<rect x="470" y="328" width="4" height="2" fill="#000"/>
<rect x="471" y="330" width="3" height="1" fill="#000"/>
<rect x="471" y="331" width="2" height="1" fill="#000"/>
<rect x="476" y="328" width="4" height="2" fill="#000"/>
<rect x="477" y="330" width="3" height="1" fill="#000"/>
<rect x="477" y="331" width="2" height="1" fill="#000"/>
<rect x="481" y="328" width="4" height="2" fill="#000"/>
<rect x="482" y="330" width="3" height="1" fill="#000"/>
<rect x="482" y="331" width="2" height="1" fill="#000"/>
<rect x="422" y="333" width="2" height="1" fill="#000"/>
<rect x="421" y="334" width="4" height="2" fill="#000"/>
<rect x="422" y="336" width="2" height="1" fill="#000"/>
<rect x="427" y="333" width="2" height="1" fill="#000"/>
<rect x="426" y="334" width="4" height="2" fill="#000"/>
<rect x="427" y="336" width="2" height="1" fill="#000"/>
<rect x="433" y="333" width="2" height="1" fill="#000"/>
<rect x="432" y="334" width="4" height="2" fill="#000"/>
<rect x="433" y="336" width="2" height="1" fill="#000"/>
<rect x="438" y="333" width="2" height="1" fill="#000"/>
<rect x="437" y="334" width="4" height="2" fill="#000"/>
<rect x="438" y="336" width="2" height="1" fill="#000"/>
<rect x="443" y="333" width="2" height="1" fill="#000"/>
<rect x="442" y="334" width="4" height="2" fill="#000"/>
<rect x="443" y="336" width="2" height="1" fill="#000"/>
<rect x="448" y="333" width="2" height="1" fill="#000"/>
<rect x="447" y="334" width="4" height="2" fill="#000"/>
<rect x="448" y="336" width="2" height="1" fill="#000"/>
<rect x="454" y="333" width="2" height="1" fill="#000"/>
<rect x="453" y="334" width="4" height="2" fill="#000"/>
<rect x="454" y="336" width="2" height="1" fill="#000"/>
<rect x="459" y="333" width="2" height="1" fill="#000"/>
<rect x="458" y="334" width="4" height="2" fill="#000"/>
<rect x="459" y="336" width="2" height="1" fill="#000"/>
<rect x="464" y="333" width="2" height="1" fill="#000"/>
<rect x="463" y="334" width="4" height="2" fill="#000"/>
<rect x="464" y="336" width="2" height="1" fill="#000"/>
<rect x="469" y="333" width="2" height="1" fill="#000"/>
<rect x="468" y="334" width="4" height="2" fill="#000"/>
<rect x="469" y="336" width="2" height="1" fill="#000"/>
<rect x="475" y="333" width="2" height="1" fill="#000"/>
<rect x="474" y="334" width="4" height="2" fill="#000"/>
<rect x="475" y="336" width="2" height="1" fill="#000"/>
<rect x="480" y="333" width="2" height="1" fill="#000"/>
<rect x="479" y="334" width="4" height="2" fill="#000"/>
<rect x="480" y="336" width="2" height="1" fill="#000"/>
<rect x="510.5" y="323.5" width="98" height="18" fill="none" stroke="#000"/>
<circle cx="520" cy="332" r="3.5" fill="none" stroke="#000"/>
<circle cx="600" cy="332" r="3.5" fill="none" stroke="#000"/>
<path d="M523.5 326.5H596.5L592.5 338.5H526.5Z" fill="none" stroke="#000"/>
<rect x="526" y="328" width="4" height="2" fill="#000"/>
<rect x="527" y="330" width="3" height="1" fill="#000"/>
<rect x="527" y="331" width="2" height="1" fill="#000"/>
<rect x="531" y="328" width="4" height="2" fill="#000"/>
<rect x="532" y="330" width="3" height="1" fill="#000"/>
<rect x="532" y="331" width="2" height="1" fill="#000"/>
<rect x="536" y="328" width="4" height="2" fill="#000"/>
<rect x="537" y="330" width="3" height="1" fill="#000"/>
<rect x="537" y="331" width="2" height="1" fill="#000"/>
<rect x="542" y="328" width="4" height="2" fill="#000"/>
<rect x="543" y="330" width="3" height="1" fill="#000"/>
<rect x="543" y="331" width="2" height="1" fill="#000"/>
<rect x="547" y="328" width="4" height="2" fill="#000"/>
<rect x="548" y="330" width="3" height="1" fill="#000"/>
<rect x="548" y="331" width="2" height="1" fill="#000"/>
<rect x="552" y="328" width="4" height="2" fill="#000"/>
<rect x="553" y="330" width="3" height="1" fill="#000"/>
<rect x="553" y="331" width="2" height="1" fill="#000"/>
<rect x="558" y="328" width="4" height="2" fill="#000"/>
<rect x="559" y="330" width="3" height="1" fill="#000"/>
<rect x="559" y="331" width="2" height="1" fill="#000"/>
<rect x="563" y="328" width="4" height="2" fill="#000"/>
<rect x="564" y="330" width="3" height="1" fill="#000"/>
<rect x="564" y="331" width="2" height="1" fill="#000"/>
<rect x="568" y="328" width="4" height="2" fill="#000"/>
<rect x="569" y="330" width="3" height="1" fill="#000"/>
<rect x="569" y="331" width="2" height="1" fill="#000"/>
<rect x="573" y="328" width="4" height="2" fill="#000"/>
<rect x="574" y="330" width="3" height="1" fill="#000"/>
<rect x="574" y="331" width="2" height="1" fill="#000"/>
<rect x="578" y="328" width="4" height="2" fill="#000"/>
<rect x="579" y="330" width="3" height="1" fill="#000"/>
<rect x="579" y="331" width="2" height="1" fill="#000"/>
<rect x="584" y="328" width="4" height="2" fill="#000"/>
<rect x="585" y="330" width="3" height="1" fill="#000"/>
<rect x="585" y="331" width="2" height="1" fill="#000"/>
<rect x="589" y="328" width="4" height="2" fill="#000"/>
<rect x="590" y="330" width="3" height="1" fill="#000"/>
<rect x="590" y="331" width="2" height="1" fill="#000"/>
<rect x="530" y="333" width="2" height="1" fill="#000"/>
<rect x="529" y="334" width="4" height="2" fill="#000"/>
<rect x="530" y="336" width="2" height="1" fill="#000"/>
<rect x="535" y="333" width="2" height="1" fill="#000"/>
<rect x="534" y="334" width="4" height="2" fill="#000"/>
<rect x="535" y="336" width="2" height="1" fill="#000"/>
<rect x="541" y="333" width="2" height="1" fill="#000"/>
<rect x="540" y="334" width="4" height="2" fill="#000"/>
<rect x="541" y="336" width="2" height="1" fill="#000"/>
<rect x="546" y="333" width="2" height="1" fill="#000"/>
<rect x="545" y="334" width="4" height="2" fill="#000"/>
<rect x="546" y="336" width="2" height="1" fill="#000"/>
<rect x="551" y="333" width="2" height="1" fill="#000"/>
<rect x="550" y="334" width="4" height="2" fill="#000"/>
<rect x="551" y="336" width="2" height="1" fill="#000"/>
<rect x="556" y="333" width="2" height="1" fill="#000"/>
<rect x="555" y="334" width="4" height="2" fill="#000"/>
<rect x="556" y="336" width="2" height="1" fill="#000"/>
<rect x="562" y="333" width="2" height="1" fill="#000"/>
<rect x="561" y="334" width="4" height="2" fill="#000"/>
<rect x="562" y="336" width="2" height="1" fill="#000"/>
<rect x="567" y="333" width="2" height="1" fill="#000"/>
<rect x="566" y="334" width="4" height="2" fill="#000"/>
<rect x="567" y="336" width="2" height="1" fill="#000"/>
<rect x="572" y="333" width="2" height="1" fill="#000"/>
<rect x="571" y="334" width="4" height="2" fill="#000"/>
<rect x="572" y="336" width="2" height="1" fill="#000"/>
<rect x="577" y="333" width="2" height="1" fill="#000"/>
<rect x="576" y="334" width="4" height="2" fill="#000"/>
<rect x="577" y="336" width="2" height="1" fill="#000"/>
<rect x="583" y="333" width="2" height="1" fill="#000"/>
<rect x="582" y="334" width="4" height="2" fill="#000"/>
<rect x="583" y="336" width="2" height="1" fill="#000"/>
<rect x="588" y="333" width="2" height="1" fill="#000"/>
<rect x="587" y="334" width="4" height="2" fill="#000"/>
<rect x="588" y="336" width="2" height="1" fill="#000"/>
<rect x="628" y="315" width="32" height="30" fill="#000"/>
<rect x="664" y="315" width="33" height="30" fill="#000"/>
<rect x="702" y="314" width="28" height="34" fill="#000"/>
<rect x="735" y="314" width="28" height="34" fill="#000"/>
<path d="M19 263H49L51 265V280L49 282H19L17 280V265Z" fill="#000"/>
<rect x="20" y="265" width="29" height="14" fill="#fff"/>
<text transform="translate(34.5 277) scale(0.72 1.0)" x="0" y="0" font-size="14.5" text-anchor="middle" textLength="33.33" lengthAdjust="spacing">SW1</text>
<path d="M70 265H100L102 267V282L100 284H70L68 282V267Z" fill="#000"/>
<rect x="70" y="268" width="29" height="14" fill="#fff"/>
<text transform="translate(84.5 279) scale(0.72 1.0)" x="0" y="0" font-size="14.5" text-anchor="middle" textLength="33.33" lengthAdjust="spacing">CN1</text>
<path d="M174 288H204L206 290V304L204 306H174L172 304V290Z" fill="#000"/>
<rect x="175" y="290" width="29" height="14" fill="#fff"/>
<text transform="translate(189.5 301) scale(0.72 1.0)" x="0" y="0" font-size="14.5" text-anchor="middle" textLength="33.33" lengthAdjust="spacing">CN2</text>
<path d="M314 288H347L347 288V306L347 306H314L314 306V288Z" fill="#000"/>
<rect x="316" y="290" width="29" height="14" fill="#fff"/>
<text transform="translate(330.5 301) scale(0.72 1.0)" x="0" y="0" font-size="14.5" text-anchor="middle" textLength="33.33" lengthAdjust="spacing">CN3</text>
<path d="M439 288H469L471 290V304L469 306H439L437 304V290Z" fill="#000"/>
<rect x="440" y="290" width="29" height="14" fill="#fff"/>
<text transform="translate(454.5 301) scale(0.72 1.0)" x="0" y="0" font-size="14.5" text-anchor="middle" textLength="33.33" lengthAdjust="spacing">CN4</text>
<path d="M544 288H577L577 288V306L577 306H544L544 306V288Z" fill="#000"/>
<rect x="546" y="290" width="29" height="14" fill="#fff"/>
<text transform="translate(560.5 301) scale(0.72 1.0)" x="0" y="0" font-size="14.5" text-anchor="middle" textLength="33.33" lengthAdjust="spacing">CN5</text>
<path d="M629 280H659L661 282V297L659 299H629L627 297V282Z" fill="#000"/>
<rect x="629" y="282" width="30" height="15" fill="#fff"/>
<text transform="translate(644.0 294) scale(0.72 1.0)" x="0" y="0" font-size="14.5" text-anchor="middle" textLength="33.33" lengthAdjust="spacing">CN6</text>
<path d="M665 280H695L697 282V297L695 299H665L663 297V282Z" fill="#000"/>
<rect x="665" y="282" width="30" height="15" fill="#fff"/>
<text transform="translate(680.0 294) scale(0.72 1.0)" x="0" y="0" font-size="14.5" text-anchor="middle" textLength="33.33" lengthAdjust="spacing">CN7</text>
<path d="M702 280H730L732 282V297L730 299H702L700 297V282Z" fill="#000"/>
<rect x="702" y="282" width="28" height="15" fill="#fff"/>
<text transform="translate(716.0 294) scale(0.72 1.0)" x="0" y="0" font-size="14.5" text-anchor="middle" textLength="33.33" lengthAdjust="spacing">CN8</text>
<path d="M735 280H764L766 282V297L764 299H735L733 297V282Z" fill="#000"/>
<rect x="735" y="282" width="29" height="15" fill="#fff"/>
<text transform="translate(749.5 294) scale(0.72 1.0)" x="0" y="0" font-size="14.5" text-anchor="middle" textLength="33.33" lengthAdjust="spacing">CN9</text>
<rect x="32" y="280" width="3" height="2" fill="#fff"/>
<rect x="30" y="282" width="2" height="4" fill="#000"/>
<rect x="35" y="282" width="2" height="4" fill="#000"/>
<rect x="32" y="282" width="3" height="4" fill="#fff"/>
<rect x="31" y="286" width="2" height="3" fill="#000"/>
<rect x="34" y="286" width="2" height="3" fill="#000"/>
<rect x="33" y="286" width="1" height="3" fill="#fff"/>
<rect x="31" y="289" width="5" height="4" fill="#000"/>
<rect x="32" y="293" width="2" height="4" fill="#000"/>
<rect x="83" y="282" width="3" height="2" fill="#fff"/>
<rect x="81" y="284" width="2" height="4" fill="#000"/>
<rect x="86" y="284" width="2" height="4" fill="#000"/>
<rect x="83" y="284" width="3" height="4" fill="#fff"/>
<rect x="82" y="288" width="2" height="3" fill="#000"/>
<rect x="85" y="288" width="2" height="3" fill="#000"/>
<rect x="84" y="288" width="1" height="3" fill="#fff"/>
<rect x="82" y="291" width="5" height="5" fill="#000"/>
<rect x="83" y="296" width="2" height="4" fill="#000"/>
<rect x="187" y="304" width="3" height="2" fill="#fff"/>
<rect x="185" y="306" width="2" height="4" fill="#000"/>
<rect x="190" y="306" width="2" height="4" fill="#000"/>
<rect x="187" y="306" width="3" height="4" fill="#fff"/>
<rect x="186" y="310" width="2" height="3" fill="#000"/>
<rect x="189" y="310" width="2" height="3" fill="#000"/>
<rect x="188" y="310" width="1" height="3" fill="#fff"/>
<rect x="186" y="313" width="5" height="6" fill="#000"/>
<rect x="187" y="319" width="2" height="4" fill="#000"/>
<rect x="329" y="304" width="3" height="2" fill="#fff"/>
<rect x="327" y="306" width="2" height="4" fill="#000"/>
<rect x="332" y="306" width="2" height="4" fill="#000"/>
<rect x="329" y="306" width="3" height="4" fill="#fff"/>
<rect x="328" y="310" width="2" height="3" fill="#000"/>
<rect x="331" y="310" width="2" height="3" fill="#000"/>
<rect x="330" y="310" width="1" height="3" fill="#fff"/>
<rect x="328" y="313" width="5" height="6" fill="#000"/>
<rect x="329" y="319" width="2" height="4" fill="#000"/>
<rect x="452" y="304" width="3" height="2" fill="#fff"/>
<rect x="450" y="306" width="2" height="4" fill="#000"/>
<rect x="455" y="306" width="2" height="4" fill="#000"/>
<rect x="452" y="306" width="3" height="4" fill="#fff"/>
<rect x="451" y="310" width="2" height="3" fill="#000"/>
<rect x="454" y="310" width="2" height="3" fill="#000"/>
<rect x="453" y="310" width="1" height="3" fill="#fff"/>
<rect x="451" y="313" width="5" height="6" fill="#000"/>
<rect x="452" y="319" width="2" height="4" fill="#000"/>
<rect x="559" y="304" width="3" height="2" fill="#fff"/>
<rect x="557" y="306" width="2" height="4" fill="#000"/>
<rect x="562" y="306" width="2" height="4" fill="#000"/>
<rect x="559" y="306" width="3" height="4" fill="#fff"/>
<rect x="558" y="310" width="2" height="3" fill="#000"/>
<rect x="561" y="310" width="2" height="3" fill="#000"/>
<rect x="560" y="310" width="1" height="3" fill="#fff"/>
<rect x="558" y="313" width="5" height="6" fill="#000"/>
<rect x="559" y="319" width="2" height="4" fill="#000"/>
<rect x="642" y="297" width="3" height="2" fill="#fff"/>
<rect x="640" y="299" width="2" height="4" fill="#000"/>
<rect x="645" y="299" width="2" height="4" fill="#000"/>
<rect x="642" y="299" width="3" height="4" fill="#fff"/>
<rect x="641" y="303" width="2" height="3" fill="#000"/>
<rect x="644" y="303" width="2" height="3" fill="#000"/>
<rect x="643" y="303" width="1" height="3" fill="#fff"/>
<rect x="641" y="306" width="5" height="5" fill="#000"/>
<rect x="642" y="311" width="2" height="4" fill="#000"/>
<rect x="679" y="297" width="3" height="2" fill="#fff"/>
<rect x="677" y="299" width="2" height="4" fill="#000"/>
<rect x="682" y="299" width="2" height="4" fill="#000"/>
<rect x="679" y="299" width="3" height="4" fill="#fff"/>
<rect x="678" y="303" width="2" height="3" fill="#000"/>
<rect x="681" y="303" width="2" height="3" fill="#000"/>
<rect x="680" y="303" width="1" height="3" fill="#fff"/>
<rect x="678" y="306" width="5" height="5" fill="#000"/>
<rect x="679" y="311" width="2" height="4" fill="#000"/>
<rect x="715" y="297" width="3" height="2" fill="#fff"/>
<rect x="713" y="299" width="2" height="4" fill="#000"/>
<rect x="718" y="299" width="2" height="4" fill="#000"/>
<rect x="715" y="299" width="3" height="4" fill="#fff"/>
<rect x="714" y="303" width="2" height="3" fill="#000"/>
<rect x="717" y="303" width="2" height="3" fill="#000"/>
<rect x="716" y="303" width="1" height="3" fill="#fff"/>
<rect x="714" y="306" width="5" height="4" fill="#000"/>
<rect x="715" y="310" width="2" height="4" fill="#000"/>
<rect x="747" y="297" width="3" height="2" fill="#fff"/>
<rect x="745" y="299" width="2" height="4" fill="#000"/>
<rect x="750" y="299" width="2" height="4" fill="#000"/>
<rect x="747" y="299" width="3" height="4" fill="#fff"/>
<rect x="746" y="303" width="2" height="3" fill="#000"/>
<rect x="749" y="303" width="2" height="3" fill="#000"/>
<rect x="748" y="303" width="1" height="3" fill="#fff"/>
<rect x="746" y="306" width="5" height="4" fill="#000"/>
<rect x="747" y="310" width="2" height="4" fill="#000"/>
<text transform="translate(393.5 391) scale(0.8 1.0)" x="0" y="0" font-size="15.8" text-anchor="middle" textLength="116.25" lengthAdjust="spacing" style="fill:#909090">BACK PANEL</text>
</g></svg></body></html>
